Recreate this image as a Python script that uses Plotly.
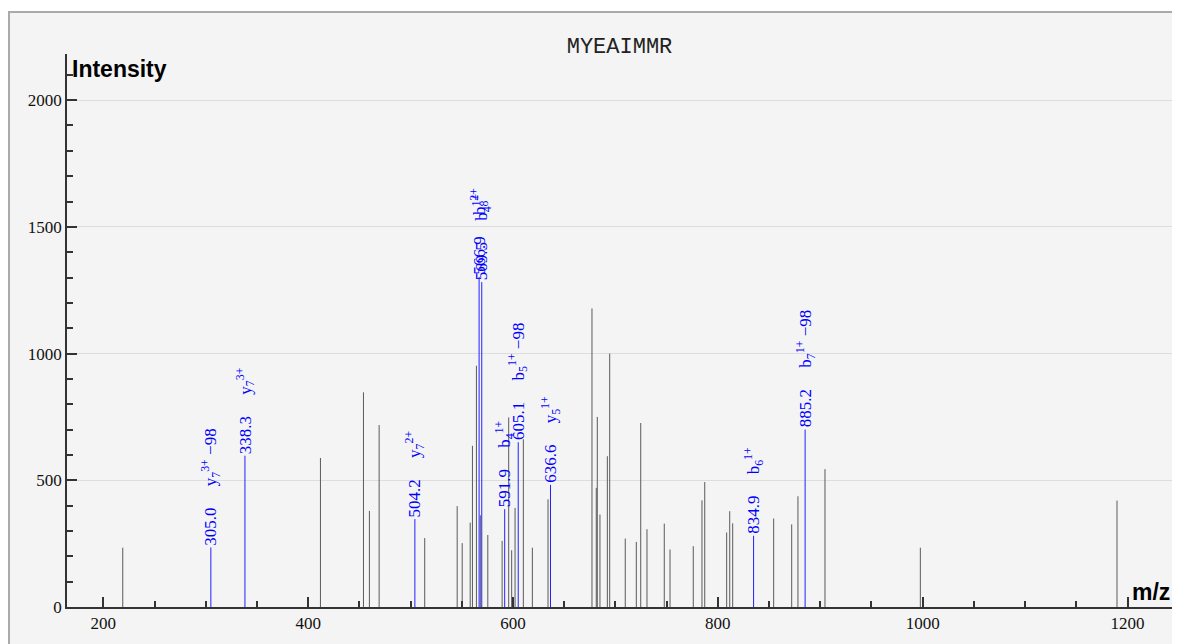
import plotly.graph_objects as go

# Unannotated peaks (m/z, intensity)
other_mz = [219.0, 412.0, 454.0, 459.8, 469.3, 513.8, 545.5, 550.4, 558.2, 560.4,
            564.3, 568.1, 575.4, 589.4, 595.8, 598.7, 600.0, 602.0, 610.1, 618.9,
            634.2, 677.1, 681.3, 682.3, 684.9, 692.1, 694.4, 709.6, 720.4, 724.7,
            730.8, 747.7, 753.3, 776.0, 784.5, 787.2, 808.6, 811.6, 814.5, 854.5,
            872.1, 878.2, 904.6, 997.7, 1189.7]
other_int = [234, 588, 847, 379, 718, 272, 398, 252, 333, 636,
             952, 362, 284, 261, 748, 224, 39, 391, 662, 234,
             425, 1178, 470, 750, 365, 595, 1000, 270, 257, 726,
             307, 329, 227, 240, 421, 493, 294, 378, 330, 349,
             326, 437, 544, 234, 420]

# Annotated (matched) peaks
ion_mz = [305.0, 338.3, 504.2, 566.9, 569.5, 591.9, 605.1, 636.6, 834.9, 885.2]
ion_int = [235, 597, 347, 1302, 1282, 386, 650, 482, 281, 700]
ion_labels = ["y<sub>7</sub><sup>3+</sup>\u00a0\u221298", "y<sub>7</sub><sup>3+</sup>",
              "y<sub>7</sub><sup>2+</sup>", "b<sub>8</sub><sup>2+</sup>",
              "b<sub>4</sub><sup>1+</sup>", "b<sub>4</sub><sup>1+</sup>",
              "b<sub>5</sub><sup>1+</sup>\u00a0\u221298", "y<sub>5</sub><sup>1+</sup>",
              "b<sub>6</sub><sup>1+</sup>", "b<sub>7</sub><sup>1+</sup>\u00a0\u221298"]

title_text = "MYEAIMMR"
x_range = [164.56, 1243.4]
y_range = [0, 2182]


def sticks(xs, ys):
    sx, sy = [], []
    for x, y in zip(xs, ys):
        sx += [x, x, None]
        sy += [0, y, None]
    return sx, sy


fig = go.Figure()
gx, gy = sticks(other_mz, other_int)
fig.add_trace(go.Scatter(x=gx, y=gy, mode="lines",
                         line=dict(color="#5a5a5a", width=1),
                         hoverinfo="skip", showlegend=False))
bx, by = sticks(ion_mz, ion_int)
fig.add_trace(go.Scatter(x=bx, y=by, mode="lines",
                         line=dict(color="#2020ff", width=1),
                         hoverinfo="skip", showlegend=False))

gap = "\u00a0" * 5
for mz, inten, lab in zip(ion_mz, ion_int, ion_labels):
    fig.add_annotation(x=mz, y=inten, xref="x", yref="y",
                       text=f"{mz:.1f}{gap}{lab}", textangle=-90,
                       xanchor="center", yanchor="bottom", yshift=0,
                       showarrow=False,
                       font=dict(family="Liberation Serif", size=17, color="#0000ff"))

fig.add_annotation(x=0, y=1, xref="paper", yref="paper", text="<b>Intensity</b>",
                   xanchor="left", yanchor="top", xshift=3, yshift=0, showarrow=False,
                   font=dict(family="Liberation Sans", size=23, color="#000"))
fig.add_annotation(x=1, y=0, xref="paper", yref="paper", text="<b>m/z</b>",
                   xanchor="right", yanchor="bottom", xshift=0, yshift=0, showarrow=False,
                   font=dict(family="Liberation Sans", size=23, color="#000"))

# outer frame
fig.add_shape(type="rect", xref="paper", yref="paper",
              x0=-0.0525, x1=1.2, y0=-0.2, y1=1.076,
              fillcolor="#f4f4f4", line=dict(color="#aaaaaa", width=2), layer="below")

tickfont = dict(family="Liberation Serif", size=17, color="#111")
fig.update_xaxes(range=x_range, showline=True, linecolor="#333", linewidth=1.5,
                 ticks="inside", ticklen=10, tickcolor="#333", tickwidth=1.5,
                 tick0=0, dtick=200, showgrid=False, zeroline=False,
                 tickfont=tickfont,
                 minor=dict(ticks="inside", ticklen=6, dtick=50, tick0=0,
                            tickcolor="#333", tickwidth=1.5, showgrid=False))
fig.update_yaxes(range=y_range, showline=True, linecolor="#333", linewidth=1.5,
                 ticks="inside", ticklen=10, tickcolor="#333", tickwidth=1.5,
                 tick0=0, dtick=500, showgrid=True, gridcolor="#dddddd", gridwidth=1,
                 zeroline=False, tickfont=tickfont,
                 minor=dict(ticks="inside", ticklen=6, dtick=100, tick0=0,
                            tickcolor="#333", tickwidth=1.5, showgrid=False))

fig.update_layout(
    width=1180, height=644,
    margin=dict(l=59, r=16, t=46, b=45),
    paper_bgcolor="white", plot_bgcolor="#f4f4f4",
    title=dict(text=title_text, x=0.5, xref="paper", y=1 - 37 / 644, yanchor="middle",
               font=dict(family="Liberation Mono", size=22, color="#222")),
    showlegend=False,
)

fig.write_html("out.html")
